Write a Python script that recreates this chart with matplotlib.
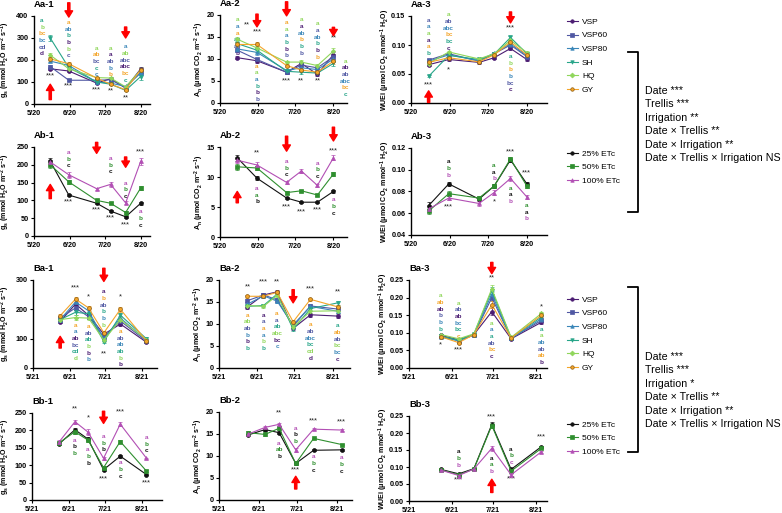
import pandas as pd
import matplotlib
matplotlib.use('Agg')
import matplotlib.pyplot as plt
from matplotlib.lines import Line2D

plt.rcParams['font.family'] = ['Liberation Sans', 'DejaVu Sans']
plt.rcParams['mathtext.default'] = 'regular'

W, H = 782, 513

#%% Daten
trellis = ['VSP', 'VSP60', 'VSP80', 'SH', 'HQ', 'GY']
irrigation = ['25% ETc', '50% ETc', '100% ETc']

dates_2020 = ['2020-06-03', '2020-06-19', '2020-07-13', '2020-07-25', '2020-08-07', '2020-08-20']
dates_2021 = ['2021-06-13', '2021-06-26', '2021-07-07', '2021-07-20', '2021-08-03', '2021-08-25']
ticks_2020 = ['5/20', '6/20', '7/20', '8/20']
ticks_2021 = ['5/21', '6/21', '7/21', '8/21']

# 2020, Trellis (Reihenfolge wie trellis)
gs_2020_tr = [[160, 150, 95, 115, 72, 160],
              [170, 108, 108, 110, 75, 145],
              [195, 175, 100, 95, 80, 140],
              [300, 165, 100, 90, 62, 125],
              [222, 160, 120, 118, 78, 155],
              [205, 183, 118, 90, 65, 155]]
gs_2020_tr_err = [[6, 6, 5, 6, 4, 10], [6, 4, 5, 5, 4, 10], [6, 8, 5, 5, 4, 10],
                  [14, 8, 5, 5, 4, 14], [8, 8, 5, 6, 4, 12], [8, 10, 5, 5, 4, 10]]
an_2020_tr = [[10.3, 9.6, 7.0, 9.0, 6.5, 11.0],
              [12.0, 9.9, 7.0, 8.6, 8.0, 10.5],
              [12.3, 11.5, 7.4, 8.0, 7.6, 10.0],
              [13.5, 12.0, 7.2, 7.0, 6.8, 9.0],
              [14.5, 12.5, 9.3, 9.3, 8.5, 11.8],
              [13.3, 13.3, 8.5, 7.5, 7.0, 9.5]]
an_2020_tr_err = [[0.4, 0.4, 0.3, 0.4, 0.3, 0.6], [0.5, 0.4, 0.3, 0.4, 0.3, 0.6], [0.5, 0.5, 0.3, 0.4, 0.3, 0.6],
                  [0.6, 0.5, 0.3, 0.3, 0.3, 0.7], [0.6, 0.5, 0.3, 0.4, 0.3, 0.6], [0.6, 0.6, 0.4, 0.3, 0.3, 0.6]]
wue_2020_tr = [[0.066, 0.075, 0.070, 0.078, 0.094, 0.075],
               [0.074, 0.085, 0.072, 0.085, 0.100, 0.080],
               [0.072, 0.083, 0.073, 0.086, 0.102, 0.082],
               [0.046, 0.082, 0.075, 0.084, 0.113, 0.085],
               [0.068, 0.088, 0.076, 0.085, 0.108, 0.087],
               [0.070, 0.078, 0.071, 0.083, 0.105, 0.083]]
wue_2020_tr_err = [[0.002, 0.002, 0.002, 0.002, 0.003, 0.003]] * 6

# 2020, Bewässerung (Reihenfolge wie irrigation)
gs_2020_ir = [[210, 115, 92, 70, 54, 92],
              [200, 152, 100, 92, 66, 135],
              [208, 172, 133, 145, 93, 210]]
gs_2020_ir_err = [[8, 4, 3, 3, 3, 4], [8, 5, 5, 3, 3, 6], [6, 8, 3, 6, 4, 10]]
an_2020_ir = [[13.2, 9.8, 6.5, 5.8, 5.8, 7.6],
              [11.7, 11.5, 7.4, 7.7, 7.0, 10.5],
              [12.8, 12.0, 9.1, 11.0, 8.6, 13.2]]
an_2020_ir_err = [[0.5, 0.3, 0.2, 0.1, 0.1, 0.3], [0.5, 0.4, 0.2, 0.2, 0.2, 0.3], [0.4, 0.5, 0.3, 0.4, 0.3, 0.4]]
wue_2020_ir = [[0.067, 0.087, 0.073, 0.085, 0.109, 0.087],
               [0.062, 0.078, 0.074, 0.085, 0.110, 0.085],
               [0.064, 0.074, 0.069, 0.079, 0.092, 0.075]]
wue_2020_ir_err = [[0.003, 0.002, 0.002, 0.002, 0.002, 0.002]] * 3

# 2021, Trellis
gs_2021_tr = [[158, 218, 180, 115, 150, 88],
              [170, 205, 175, 105, 160, 92],
              [165, 225, 195, 100, 170, 95],
              [165, 190, 185, 90, 180, 100],
              [165, 172, 170, 95, 165, 97],
              [178, 235, 205, 120, 200, 93]]
gs_2021_tr_err = [[5, 8, 8, 6, 8, 4], [5, 8, 8, 6, 8, 4], [5, 8, 8, 6, 8, 4],
                  [5, 8, 8, 6, 8, 4], [5, 8, 8, 6, 8, 4], [5, 8, 8, 6, 8, 4]]
an_2021_tr = [[13.9, 16.6, 17.3, 9.0, 12.1, 11.8],
              [15.3, 16.6, 15.5, 9.5, 14.1, 13.4],
              [14.5, 16.4, 15.2, 9.8, 14.0, 12.9],
              [14.0, 14.2, 16.8, 8.8, 13.5, 14.8],
              [14.2, 14.0, 16.5, 9.3, 12.9, 13.0],
              [16.3, 16.3, 17.2, 10.5, 15.6, 13.9]]
an_2021_tr_err = [[0.4, 0.4, 0.4, 0.3, 0.4, 0.4]] * 6
wue_2021_tr = [[0.093, 0.080, 0.095, 0.160, 0.083, 0.130],
               [0.090, 0.078, 0.093, 0.200, 0.085, 0.135],
               [0.088, 0.077, 0.094, 0.210, 0.084, 0.140],
               [0.090, 0.079, 0.096, 0.220, 0.086, 0.145],
               [0.095, 0.083, 0.097, 0.225, 0.087, 0.155],
               [0.089, 0.072, 0.095, 0.180, 0.085, 0.150]]
wue_2021_tr_err = [[0.003, 0.003, 0.003, 0.010, 0.003, 0.004]] * 6

# 2021, Bewässerung
gs_2021_ir = [[162, 202, 175, 87, 126, 73],
              [165, 196, 172, 93, 168, 83],
              [168, 225, 195, 120, 218, 120]]
gs_2021_ir_err = [[4, 5, 5, 4, 4, 2], [4, 5, 5, 4, 5, 2], [4, 6, 8, 5, 6, 2]]
an_2021_ir = [[14.8, 16.0, 15.3, 8.3, 11.3, 11.4],
              [15.3, 14.9, 16.3, 8.3, 14.0, 12.6],
              [15.0, 16.5, 17.2, 11.4, 16.1, 15.9]]
an_2021_ir_err = [[0.3, 0.4, 0.4, 0.3, 0.2, 0.2], [0.3, 0.3, 0.4, 0.3, 0.2, 0.2], [0.3, 0.4, 0.4, 0.4, 0.3, 0.3]]
wue_2021_ir = [[0.093, 0.080, 0.095, 0.225, 0.093, 0.160],
               [0.092, 0.077, 0.094, 0.222, 0.088, 0.155],
               [0.091, 0.075, 0.094, 0.155, 0.077, 0.145]]
wue_2021_ir_err = [[0.002, 0.002, 0.002, 0.008, 0.002, 0.003]] * 3

#%% Buchstaben / Sterne / Pfeile: (Index, y, dx in Tagen, [(Text, Reihe)])
aa1_letters = [(0, 379, -7, [('a', 3), ('b', 4), ('bc', 5), ('bc', 2), ('cd', 1), ('d', 0)]),
               (1, 370, 0, [('a', 5), ('ab', 2), ('b', 3), ('b', 0), ('b', 4), ('c', 1)]),
               (2, 254, 0, [('a', 4), ('ab', 5), ('bc', 1), ('c', 3), ('c', 2), ('c', 0)]),
               (3, 254, 0, [('a', 4), ('a', 0), ('ab', 1), ('b', 2), ('b', 5), ('b', 3)]),
               (4, 260, 0, [('a', 2), ('ab', 4), ('abc', 1), ('abc', 0), ('bc', 5), ('c', 3)])]
aa1_stars = [(0, 127, '***'), (1, 82, '***'), (2, 64, '***'), (3, 59, '**'), (4, 27, '**')]
aa1_arrows = [(0, 20, 90), (1, 460, 395), (4, 350, 300)]

aa2_letters = [(0, 18.9, 0, [('a', 4), ('a', 2), ('a', 5), ('ab', 3), ('ab', 1), ('b', 0)]),
               (1, 8.4, 0, [('a', 5), ('a', 4), ('a', 2), ('b', 3), ('b', 0), ('b', 1)]),
               (2, 18.3, 0, [('a', 5), ('a', 4), ('a', 2), ('b', 3), ('b', 0), ('b', 1)]),
               (3, 18.9, 0, [('a', 4), ('a', 0), ('ab', 2), ('b', 5), ('b', 3), ('b', 1)]),
               (4, 18.0, 0, [('a', 4), ('a', 1), ('ab', 2), ('b', 3), ('b', 0), ('b', 5)]),
               (5, 9.5, 9.5, [('a', 4), ('ab', 0), ('ab', 1), ('abc', 2), ('bc', 5), ('c', 3)])]
aa2_stars = [(0, 17.7, '**', 8), (1, 16.1, '***'), (2, 5.0, '***'), (3, 5.0, '**'), (4, 5.0, '**'), (5, 14.7, '**')]
aa2_arrows = [(1, 20.2, 17.3), (2, 23.0, 19.8), (5, 17.2, 15.3)]

aa3_letters = [(0, 0.143, 0, [('a', 1), ('a', 2), ('a', 4), ('a', 0), ('a', 5), ('b', 3)]),
               (1, 0.152, 0, [('a', 4), ('ab', 1), ('abc', 2), ('bc', 5), ('bc', 3), ('c', 0)]),
               (4, 0.080, 0, [('a', 3), ('b', 4), ('b', 5), ('b', 2), ('bc', 1), ('c', 0)])]
aa3_stars = [(0, 0.031, '***'), (1, 0.057, '*'), (4, 0.129, '***')]
aa3_arrows = [(0, 0.001, 0.021), (4, 0.157, 0.138)]

ab1_letters = [(1, 235, 0, [('a', 2), ('b', 1), ('c', 0)]),
               (3, 218, 0, [('a', 2), ('b', 1), ('c', 0)]),
               (4, 148, 0, [('a', 2), ('b', 1), ('c', 0)]),
               (5, 68, 0, [('a', 2), ('b', 1), ('c', 0)])]
ab1_stars = [(1, 96, '***'), (2, 73, '***'), (3, 50, '***'), (4, 31, '***'), (5, 235, '***')]
ab1_arrows = [(0, 105, 145), (2, 263, 232), (4, 222, 193)]

ab2_letters = [(1, 8.1, 0, [('a', 2), ('a', 1), ('b', 0)]),
               (2, 12.6, 0, [('a', 2), ('b', 1), ('c', 0)]),
               (4, 12.3, 0, [('a', 2), ('b', 1), ('c', 0)]),
               (5, 6.2, 0, [('a', 2), ('b', 1), ('c', 0)])]
ab2_stars = [(1, 14.1, '**'), (2, 5.0, '***'), (3, 4.2, '***'), (4, 4.5, '***'), (5, 14.4, '***')]
ab2_arrows = [(0, 5.7, 7.6), (2, 16.8, 14.3), (5, 18.3, 16.0)]

ab3_letters = [(1, 0.1074, 0, [('a', 0), ('b', 1), ('b', 2)]),
               (3, 0.104, 0, [('a', 1), ('a', 0), ('b', 2)]),
               (4, 0.083, 0, [('a', 1), ('a', 0), ('b', 2)]),
               (5, 0.067, 0, [('a', 1), ('a', 0), ('b', 2)])]
ab3_stars = [(1, 0.066, '***'), (3, 0.0706, '*'), (4, 0.1166, '***'), (5, 0.097, '***')]
ab3_arrows = []

ba1_letters = [(1, 146, 0, [('a', 5), ('a', 2), ('ab', 0), ('bc', 1), ('cd', 3), ('d', 4)]),
               (2, 142, 0, [('a', 5), ('ab', 1), ('ab', 3), ('b', 4), ('b', 0), ('b', 2)]),
               (3, 260, 0, [('a', 0), ('b', 5), ('ab', 1), ('b', 3), ('b', 2), ('b', 4)]),
               (4, 125, 0, [('a', 5), ('ab', 1), ('ab', 2), ('ab', 3), ('b', 4), ('b', 0)])]
ba1_stars = [(1, 272, '***'), (2, 242, '*'), (3, 48, '**'), (4, 242, '*')]
ba1_arrows = [(0, 68, 108), (3, 340, 295)]

ba2_letters = [(0, 12.0, 0, [('a', 5), ('ab', 4), ('ab', 1), ('b', 2), ('b', 0), ('b', 3)]),
               (1, 12.0, 0, [('a', 0), ('a', 1), ('a', 5), ('a', 2), ('b', 4), ('b', 3)]),
               (2, 12.4, 0, [('a', 5), ('a', 1), ('ab', 3), ('abc', 4), ('bc', 0), ('c', 2)]),
               (4, 9.8, 0, [('a', 5), ('ab', 1), ('abc', 2), ('bc', 3), ('cd', 4), ('d', 0)]),
               (5, 9.6, 0, [('a', 3), ('ab', 5), ('ab', 1), ('bc', 4), ('bc', 2), ('c', 0)])]
ba2_stars = [(0, 18.5, '**'), (1, 19.6, '***'), (2, 19.6, '**'), (4, 18.0, '***'), (5, 17.2, '**')]
ba2_arrows = [(3, 17.8, 14.8)]

ba3_letters = [(0, 0.205, 0, [('a', 4), ('ab', 5), ('ab', 0), ('b', 1), ('b', 2), ('b', 3)]),
               (1, 0.184, 0, [('a', 4), ('ab', 1), ('ab', 0), ('bc', 2), ('bc', 3), ('c', 5)]),
               (3, 0.127, 0, [('a', 4), ('a', 2), ('a', 3), ('ab', 1), ('bc', 5), ('c', 0)]),
               (5, 0.110, 0, [('a', 3), ('a', 4), ('ab', 2), ('ab', 1), ('ab', 5), ('b', 0)])]
ba3_stars = [(0, 0.066, '*'), (1, 0.051, '***'), (3, 0.256, '**'), (5, 0.175, '*')]
ba3_arrows = [(3, 0.300, 0.268)]

bb1_letters = [(1, 172, 0, [('a', 2), ('b', 0), ('b', 1)]),
               (2, 144, 0, [('a', 2), ('b', 1), ('b', 0)]),
               (3, 182, 0, [('a', 2), ('b', 1), ('b', 0)]),
               (4, 107, 0, [('a', 2), ('b', 1), ('c', 0)]),
               (5, 180, 0, [('a', 2), ('b', 1), ('c', 0)])]
bb1_stars = [(1, 263, '**'), (2, 235, '*'), (3, 60, '***'), (4, 252, '***'), (5, 50, '***')]
bb1_arrows = [(3, 255, 220)]

bb2_letters = [(2, 12.9, 0, [('a', 2), ('ab', 1), ('b', 0)]),
               (3, 16.3, 0, [('a', 2), ('b', 0), ('b', 1)]),
               (4, 9.8, 0, [('a', 2), ('b', 1), ('c', 0)]),
               (5, 9.6, 0, [('a', 2), ('b', 1), ('c', 0)])]
bb2_stars = [(2, 19.7, '**'), (3, 6.8, '***'), (4, 18.0, '***'), (5, 17.7, '***')]
bb2_arrows = [(3, 2.5, 5.4)]

bb3_letters = [(1, 0.145, 0, [('a', 0), ('b', 1), ('b', 2)]),
               (3, 0.126, 0, [('a', 0), ('a', 1), ('b', 2)]),
               (4, 0.152, 0, [('a', 0), ('b', 1), ('c', 2)])]
bb3_stars = [(1, 0.062, '***'), (3, 0.246, '***'), (4, 0.064, '***'), (5, 0.188, '***')]
bb3_arrows = [(3, 0.025, 0.064)]

stats_a = ['Date ***', 'Trellis ***', 'Irrigation **', 'Date × Trellis **',
           'Date × Irrigation **', 'Date × Trellis × Irrigation NS']
stats_b = ['Date ***', 'Trellis ***', 'Irrigation *', 'Date × Trellis **',
           'Date × Irrigation **', 'Date × Trellis × Irrigation NS']

#%% Stil
tr_colors = ['#4b1c72', '#5058a3', '#3a86b8', '#27a589', '#8fd65a', '#f4a52a']
tr_markers = ['o', 's', '^', 'v', 'D', 'o']
tr_edges = ['#4b1c72', '#5058a3', '#3a86b8', '#27a589', '#8fd65a', '#8a5a10']
ir_colors = ['#111111', '#2f8f2f', '#b24fb4']
ir_markers = ['o', 's', '^']

lab_gs = 'g$_s$ (mmol H$_2$O m$^{-2}$ s$^{-1}$)'
lab_an = 'A$_n$ (μmol CO$_2$ m$^{-2}$ s$^{-1}$)'
lab_wue = 'WUEi (μmol CO$_2$ mmol$^{-1}$ H$_2$O)'

days_2020 = (pd.to_datetime(dates_2020) - pd.Timestamp('2020-05-20')).days.values
days_2021 = (pd.to_datetime(dates_2021) - pd.Timestamp('2021-05-21')).days.values
tick_days = [0, 31, 61, 92]

fig = plt.figure(figsize=(W / 100, H / 100), dpi=100)


def draw_panel(title, box, lab_x, days, vals, errs, colors, markers, edges, ylim, yticks, xmax,
               xlabels, ylabel, letters, stars, arrows):
    l, t, r, b = box
    ax = fig.add_axes([l / W, 1 - b / H, (r - l) / W, (b - t) / H])
    for v, e, c, m, ec in zip(vals, errs, colors, markers, edges):
        ax.errorbar(days, v, yerr=e, color=c, marker=m, ms=2.8 if m != 'D' else 2.2,
                    mec=ec, mew=0.5, lw=0.8, elinewidth=0.6, capsize=1.5, capthick=0.6,
                    clip_on=False, zorder=3)
    ax.set_xlim(0, xmax)
    ax.set_ylim(*ylim)
    ax.set_xticks(tick_days)
    ax.set_xticklabels(xlabels)
    ax.set_yticks(yticks)
    ax.spines['top'].set_visible(False)
    ax.spines['right'].set_visible(False)
    ax.spines['left'].set_linewidth(1.0)
    ax.spines['bottom'].set_linewidth(1.0)
    ax.tick_params(labelsize=5.2, length=2.5, width=0.8, pad=1.5)
    for lbl in ax.get_xticklabels() + ax.get_yticklabels():
        lbl.set_fontweight('bold')
    ax.set_ylabel(ylabel, fontsize=5.1, fontweight='bold')
    # Position der y-Beschriftung wie im Original (Mitte in px)
    ax.yaxis.set_label_coords((lab_x + 4 - l) / (r - l), 0.5)
    ax.annotate(title, xy=(0, 1), xycoords='axes fraction', xytext=(0, 8),
                textcoords='offset points', fontsize=6.8, fontweight='bold', va='center')
    for idx, y, dx, items in letters:
        for k, (txt, s) in enumerate(items):
            ax.annotate(txt, xy=(days[idx] + dx, y), xytext=(0, -4.8 * k), textcoords='offset points',
                        ha='center', va='center', fontsize=4.6, fontweight='bold',
                        color=colors[s], annotation_clip=False)
    for st in stars:
        dx = st[3] if len(st) > 3 else 0
        ax.text(days[st[0]] + dx, st[1], st[2], ha='center', va='center', fontsize=5.5,
                color='#222222', clip_on=False)
    for idx, tail, head in arrows:
        ax.annotate('', xy=(days[idx], head), xytext=(days[idx], tail),
                    arrowprops=dict(facecolor='red', edgecolor='red', width=1.6,
                                    headwidth=5.5, headlength=4.5),
                    annotation_clip=False)
    return ax


tr_style = (tr_colors, tr_markers, tr_edges)
ir_style = (ir_colors, ir_markers, ir_colors)

draw_panel('Aa-1', (34, 16, 150, 104), 8, days_2020, gs_2020_tr, gs_2020_tr_err, *tr_style,
           (0, 400), [0, 100, 200, 300, 400], 100, ticks_2020, lab_gs, aa1_letters, aa1_stars, aa1_arrows)
draw_panel('Aa-2', (220, 15, 347, 103), 202, days_2020, an_2020_tr, an_2020_tr_err, *tr_style,
           (0, 20), [0, 5, 10, 15, 20], 103, ticks_2020, lab_an, aa2_letters, aa2_stars, aa2_arrows)
draw_panel('Aa-3', (411, 16, 547, 103), 388, days_2020, wue_2020_tr, wue_2020_tr_err, *tr_style,
           (0, 0.15), [0, 0.05, 0.10, 0.15], 108, ticks_2020, lab_wue, aa3_letters, aa3_stars, aa3_arrows)

draw_panel('Ab-1', (34, 147, 150, 236), 8, days_2020, gs_2020_ir, gs_2020_ir_err, *ir_style,
           (0, 250), [0, 50, 100, 150, 200, 250], 100, ticks_2020, lab_gs, ab1_letters, ab1_stars, ab1_arrows)
draw_panel('Ab-2', (220, 147, 347, 237), 202, days_2020, an_2020_ir, an_2020_ir_err, *ir_style,
           (0, 15), [0, 5, 10, 15], 103, ticks_2020, lab_an, ab2_letters, ab2_stars, ab2_arrows)
draw_panel('Ab-3', (411, 148, 547, 235), 388, days_2020, wue_2020_ir, wue_2020_ir_err, *ir_style,
           (0.04, 0.12), [0.04, 0.06, 0.08, 0.10, 0.12], 108, ticks_2020, lab_wue, ab3_letters, ab3_stars, ab3_arrows)

draw_panel('Ba-1', (33, 280, 157, 368), 8, days_2021, gs_2021_tr, gs_2021_tr_err, *tr_style,
           (0, 300), [0, 100, 200, 300], 105, ticks_2021, lab_gs, ba1_letters, ba1_stars, ba1_arrows)
draw_panel('Ba-2', (219, 280, 350, 368), 201, days_2021, an_2021_tr, an_2021_tr_err, *tr_style,
           (0, 20), [0, 5, 10, 15, 20], 106, ticks_2021, lab_an, ba2_letters, ba2_stars, ba2_arrows)
draw_panel('Ba-3', (409, 280, 547, 368), 386, days_2021, wue_2021_tr, wue_2021_tr_err, *tr_style,
           (0, 0.25), [0, 0.05, 0.10, 0.15, 0.20, 0.25], 100, ticks_2021, lab_wue, ba3_letters, ba3_stars, ba3_arrows)

draw_panel('Bb-1', (32, 413, 162, 500), 8, days_2021, gs_2021_ir, gs_2021_ir_err, *ir_style,
           (0, 250), [0, 50, 100, 150, 200, 250], 109, ticks_2021, lab_gs, bb1_letters, bb1_stars, bb1_arrows)
draw_panel('Bb-2', (219, 412, 352, 500), 201, days_2021, an_2021_ir, an_2021_ir_err, *ir_style,
           (0, 20), [0, 5, 10, 15, 20], 104, ticks_2021, lab_an, bb2_letters, bb2_stars, bb2_arrows)
draw_panel('Bb-3', (409, 416, 547, 501), 386, days_2021, wue_2021_ir, wue_2021_ir_err, *ir_style,
           (0, 0.25), [0, 0.05, 0.10, 0.15, 0.20, 0.25], 100, ticks_2021, lab_wue, bb3_letters, bb3_stars, bb3_arrows)

#%% Legenden
def add_legend(names, colors, markers, edges, x_px, y_px):
    handles = [Line2D([], [], color=c, marker=m, ms=2.5, mec=ec, mew=0.5, lw=0.8)
               for c, m, ec in zip(colors, markers, edges)]
    fig.legend(handles, names, loc='upper left', bbox_to_anchor=(x_px / W, 1 - y_px / H),
               frameon=False, fontsize=6, handlelength=1.3, handletextpad=0.5,
               labelspacing=0.69, borderpad=0, borderaxespad=0)


add_legend(trellis, tr_colors, tr_markers, tr_edges, 567, 18)
add_legend(irrigation, ir_colors, ir_markers, ir_colors, 567, 150)
add_legend(trellis, tr_colors, tr_markers, tr_edges, 567, 296)
add_legend(irrigation, ir_colors, ir_markers, ir_colors, 567, 421)

#%% Klammern + Statistik
def add_bracket(top, bottom, lines, y_first):
    xs = [628 / W, 638 / W, 638 / W, 628 / W]
    ys = [1 - top / H, 1 - top / H, 1 - bottom / H, 1 - bottom / H]
    fig.add_artist(Line2D(xs, ys, transform=fig.transFigure, color='black', lw=1.3))
    for k, txt in enumerate(lines):
        fig.text(645 / W, 1 - (y_first + 13.4 * k) / H, txt, fontsize=7.7, va='center', ha='left')


add_bracket(52, 212, stats_a, 91)
add_bracket(287, 452, stats_b, 357)

fig.savefig('out.png', dpi=100)
